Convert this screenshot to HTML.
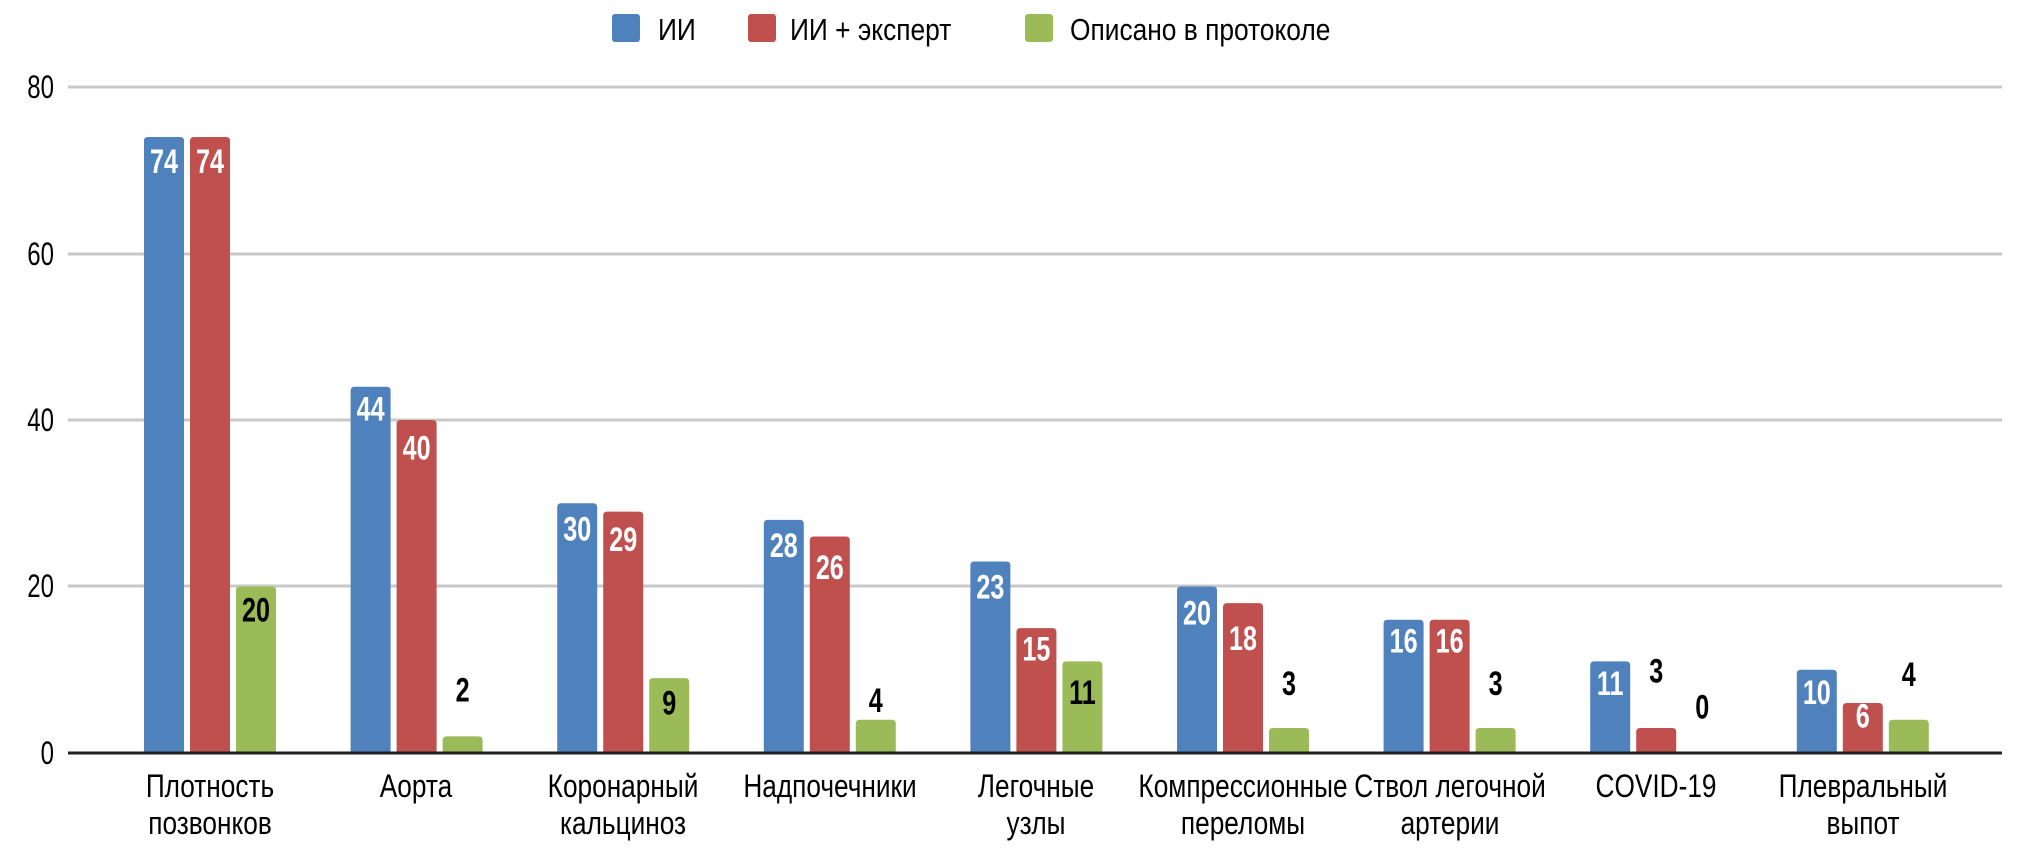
<!DOCTYPE html>
<html><head><meta charset="utf-8"><style>
html,body{margin:0;padding:0;background:#fff;}
svg{display:block;}
text{font-family:"Liberation Sans Narrow","Liberation Sans",sans-serif;}
</style></head><body>
<svg id="s" width="2020" height="853" viewBox="0 0 2020 853" xmlns="http://www.w3.org/2000/svg">
<g stroke="#c8c8c8" stroke-width="3">
<line x1="68" y1="87" x2="2002" y2="87"/>
<line x1="68" y1="254" x2="2002" y2="254"/>
<line x1="68" y1="420" x2="2002" y2="420"/>
<line x1="68" y1="586" x2="2002" y2="586"/>
</g>
<g font-size="32" fill="#000" text-anchor="end" data-s="0.75">
<text x="54" y="98">80</text>
<text x="54" y="265">60</text>
<text x="54" y="431">40</text>
<text x="54" y="597">20</text>
<text x="54" y="764">0</text>
</g>
<g id="bars"></g>
<line x1="68" y1="753" x2="2002" y2="753" stroke="#222" stroke-width="3"/>
<rect x="612" y="14" width="28" height="28" rx="3" fill="#4F81BD"/>
<rect x="748" y="14" width="28" height="28" rx="3" fill="#C0504D"/>
<rect x="1025" y="14" width="28" height="28" rx="3" fill="#9BBB59"/>
<g font-size="31" fill="#000" data-s="0.85">
<text x="658" y="40">ИИ</text>
<text x="790" y="40">ИИ + эксперт</text>
<text x="1070" y="40">Описано в протоколе</text>
</g>
<g font-size="32" fill="#000" text-anchor="middle" data-s="0.82">
<text x="210" y="797">Плотность</text><text x="210" y="834">позвонков</text>
<text x="416" y="797">Аорта</text>
<text x="623" y="797">Коронарный</text><text x="623" y="834">кальциноз</text>
<text x="830" y="797">Надпочечники</text>
<text x="1036" y="797">Легочные</text><text x="1036" y="834">узлы</text>
<text x="1243" y="797">Компрессионные</text><text x="1243" y="834">переломы</text>
<text x="1450" y="797">Ствол легочной</text><text x="1450" y="834">артерии</text>
<text x="1656" y="797">COVID-19</text>
<text x="1863" y="797">Плевральный</text><text x="1863" y="834">выпот</text>
</g>
<g id="labels" font-size="34" font-weight="bold" text-anchor="middle" data-s="0.74"></g>
</svg>
<script>
var d=[[74,74,20],[44,40,2],[30,29,9],[28,26,4],[23,15,11],[20,18,3],[16,16,3],[11,3,0],[10,6,4]];
var ly=[[125,125,473],[317,347,535],[410,418,545],[423,440,543],[455,503,537],[475,495,530],[497,497,530],[530,520,548],[537,555,523]];
var col=["#4F81BD","#C0504D","#9BBB59"];
var ns="http://www.w3.org/2000/svg";
var bars=document.getElementById("bars"),labs=document.getElementById("labels");
for(var i=0;i<9;i++){for(var j=0;j<3;j++){
 var v=d[i][j],x=144+206.6*i+46*j,h=v*8.325,y=753-h;
 if(v>0){var p=document.createElementNS(ns,"path");var r=Math.min(4,h);
 p.setAttribute("d","M"+x+" 753V"+(y+r)+"Q"+x+" "+y+" "+(x+r)+" "+y+"H"+(x+40-r)+"Q"+(x+40)+" "+y+" "+(x+40)+" "+(y+r)+"V753Z");
 p.setAttribute("fill",col[j]);bars.appendChild(p);}
 var t=document.createElementNS(ns,"text");var cy=ly[i][j]*1.289;
 t.setAttribute("x",x+20);t.setAttribute("y",cy+12);
 var inside=(cy-11>y);t.setAttribute("fill",(inside&&j<2)?"#fff":"#000");
 t.textContent=v;labs.appendChild(t);}}
var gs=document.querySelectorAll("g[data-s]");
for(var k=0;k<gs.length;k++){var s=parseFloat(gs[k].getAttribute("data-s"));
 var ts=gs[k].querySelectorAll("text");
 for(var m=0;m<ts.length;m++){var tx=parseFloat(ts[m].getAttribute("x")),ty=parseFloat(ts[m].getAttribute("y"));
  ts[m].setAttribute("x",0);ts[m].setAttribute("y",0);
  ts[m].setAttribute("transform","translate("+tx+","+ty+") scale("+s+",1)");}}
</script>
</body></html>
